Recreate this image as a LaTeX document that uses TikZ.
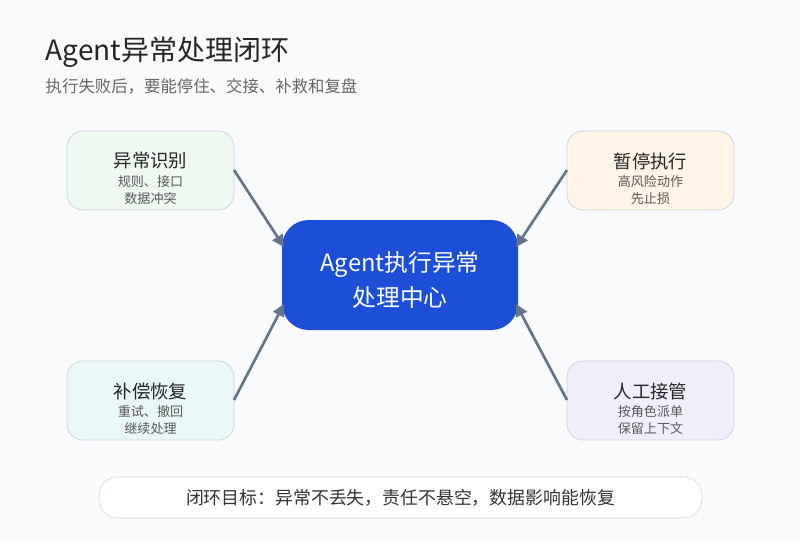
\documentclass[tikz,border=0pt]{standalone}
\usepackage{fontspec}
\setmainfont{Noto Sans CJK SC}
\usetikzlibrary{arrows.meta}
\definecolor{bg}{HTML}{F8FAFC}
\definecolor{slate}{HTML}{64748B}
\definecolor{bd}{HTML}{CBD5E1}
\definecolor{cblue}{HTML}{1D4ED8}
\definecolor{fg}{HTML}{EDF9F1}
\definecolor{fo}{HTML}{FFF4E5}
\definecolor{fc}{HTML}{E9F7F7}
\definecolor{fp}{HTML}{F1EEFC}
\begin{document}
\begin{tikzpicture}[x=0.75pt,y=-0.75pt,
 box/.style={draw=bd,rounded corners=12pt,line width=0.6pt},
 ttl/.style={font=\fontsize{13.8}{16}\selectfont,text=black!85},
 sub/.style={font=\fontsize{9.8}{13}\selectfont,text=black!65,align=center}]
\fill[bg] (0,0) rectangle (800,540);
\node[anchor=west,font=\fontsize{21}{24}\selectfont,text=black!85] (t) at (41,52) {Agent异常处理闭环};
\node[anchor=west,font=\fontsize{12.3}{14}\selectfont,text=black!60] (s) at (41,86) {执行失败后，要能停住、交接、补救和复盘};
\filldraw[box,fill=fg] (67,131) rectangle (234,210);
\filldraw[box,fill=fo] (567,131) rectangle (734,210);
\filldraw[box,fill=fc] (67,361) rectangle (234,440);
\filldraw[box,fill=fp] (567,361) rectangle (734,440);
\node[ttl] (a1) at (150.5,161) {异常识别};
\node[sub] (a2) at (150.5,190) {规则、接口\\数据冲突};
\node[ttl] (b1) at (650.5,161) {暂停执行};
\node[sub] (b2) at (650.5,190) {高风险动作\\先止损};
\node[ttl] (c1) at (150.5,391) {补偿恢复};
\node[sub] (c2) at (150.5,420) {重试、撤回\\继续处理};
\node[ttl] (d1) at (650.5,391) {人工接管};
\node[sub] (d2) at (650.5,420) {按角色派单\\保留上下文};
\fill[cblue,rounded corners=20pt] (282,220) rectangle (518,330);
\node[text=white,align=center,font=\fontsize{17.8}{26}\selectfont] (c) at (400,280) {Agent执行异常\\处理中心};
\coordinate (p1) at (234,170); \coordinate (q1) at (284,247);
\coordinate (p2) at (567,170); \coordinate (q2) at (516,247);
\coordinate (p3) at (234,400); \coordinate (q3) at (284,304);
\coordinate (p4) at (567,400); \coordinate (q4) at (516,304);
\foreach \i in {1,2,3,4} \draw[line width=2pt,draw=slate,-{Triangle[length=9pt,width=9pt]}] (p\i) -- (q\i);
\filldraw[fill=white,draw=bd,rounded corners=14pt] (99,477) rectangle (702,518);
\node[font=\fontsize{13.4}{15}\selectfont,text=black!80] (g) at (400.5,498) {闭环目标：异常不丢失，责任不悬空，数据影响能恢复};
\end{tikzpicture}
\end{document}
